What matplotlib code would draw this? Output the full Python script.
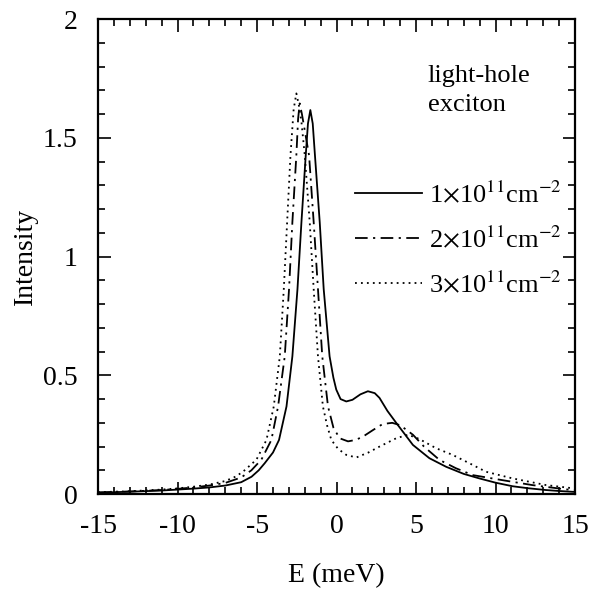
import matplotlib
matplotlib.use("Agg")
import matplotlib.pyplot as plt
from matplotlib.ticker import MultipleLocator, FuncFormatter

plt.rcParams['font.family'] = ['Liberation Serif', 'DejaVu Serif']
plt.rcParams['mathtext.fontset'] = 'stix'
plt.rcParams['axes.unicode_minus'] = False

# ---- data ----
E_1 = [-15, -13, -11, -10, -9, -8, -7, -6, -5.35, -4.9, -4.52, -4.0, -3.62, -3.15, -2.78,
       -2.46, -2.21, -1.94, -1.8, -1.65, -1.5, -1.36, -1.06, -0.81, -0.44, -0.2, -0.02,
       0.25, 0.61, 1.0, 1.5, 1.97, 2.4, 2.7, 3.2, 3.75, 4.8, 5.84, 6.89, 8.0, 8.98,
       10.0, 11.07, 12.0, 13.17, 14.0, 15.0]
I_1 = [0.006, 0.010, 0.015, 0.019, 0.023, 0.028, 0.036, 0.050, 0.073, 0.10, 0.13, 0.175,
       0.228, 0.369, 0.58, 0.863, 1.145, 1.426, 1.56, 1.617, 1.56, 1.426, 1.145, 0.863,
       0.58, 0.49, 0.44, 0.40, 0.39, 0.397, 0.42, 0.433, 0.425, 0.405, 0.35, 0.30, 0.207,
       0.151, 0.115, 0.085, 0.066, 0.048, 0.033, 0.025, 0.017, 0.013, 0.009]

E_2 = [-15, -13, -11, -10, -9, -8, -7, -6, -5.36, -4.73, -4.1, -3.68, -3.26, -2.99,
       -2.78, -2.53, -2.42, -2.32, -2.18, -1.73, -1.44, -1.17, -0.9, -0.54, -0.2, 0.19,
       0.72, 1.2, 1.66, 2.3, 2.9, 3.5, 4.0, 4.4, 4.8, 5.5, 6.47, 7.5, 8.56, 10.4, 12.3,
       14.4, 15.0]
I_2 = [0.007, 0.011, 0.017, 0.022, 0.028, 0.036, 0.047, 0.07, 0.10, 0.145, 0.228, 0.369,
       0.58, 0.863, 1.145, 1.426, 1.58, 1.645, 1.6, 1.426, 1.145, 0.863, 0.58, 0.369,
       0.28, 0.235, 0.222, 0.228, 0.242, 0.27, 0.295, 0.30, 0.29, 0.27, 0.25, 0.20,
       0.144, 0.109, 0.08, 0.059, 0.038, 0.02, 0.017]

E_3 = [-15, -13, -11, -10, -9, -8, -7, -6.3, -5.79, -5.04, -4.41, -3.95, -3.57, -3.32,
       -3.11, -2.9, -2.7, -2.53, -2.35, -2.21, -2.0, -1.69, -1.44, -1.17, -0.86, -0.6,
       -0.33, 0.1, 0.61, 1.24, 2.0, 2.7, 3.75, 4.5, 5.2, 6.26, 7.3, 8.35, 9.4, 11.07,
       13.17, 14.8, 15.0]
I_3 = [0.008, 0.012, 0.019, 0.024, 0.031, 0.04, 0.055, 0.075, 0.10, 0.145, 0.228, 0.369,
       0.58, 0.863, 1.145, 1.426, 1.62, 1.687, 1.63, 1.567, 1.426, 1.145, 0.863, 0.58,
       0.369, 0.29, 0.228, 0.19, 0.165, 0.154, 0.175, 0.2, 0.235, 0.25, 0.232, 0.193,
       0.165, 0.13, 0.094, 0.066, 0.038, 0.025, 0.024]

labels = [r'1$\times$10$^{11}$cm$^{-2}$',
          r'2$\times$10$^{11}$cm$^{-2}$',
          r'3$\times$10$^{11}$cm$^{-2}$']

xticks = [-15, -10, -5, 0, 5, 10, 15]
yticks = [0, 0.5, 1, 1.5, 2]

fig = plt.figure(figsize=(5.91, 5.96), dpi=100)
ax = fig.add_axes([0.166, 0.171, 0.807, 0.797])

lw = 1.3
ax.plot(E_1, I_1, color='black', lw=lw, linestyle='-', label=labels[0])
ax.plot(E_2, I_2, color='black', lw=lw, linestyle=(0, (7, 3, 1.2, 3)), label=labels[1])
ax.plot(E_3, I_3, color='black', lw=lw, linestyle=(0, (1, 2.3)), label=labels[2])

ax.set_xlim(-15, 15)
ax.set_ylim(0, 2)
ax.set_xticks(xticks)
ax.set_yticks(yticks)
ax.xaxis.set_minor_locator(MultipleLocator(1))
ax.yaxis.set_minor_locator(MultipleLocator(0.1))
ax.yaxis.set_major_formatter(FuncFormatter(lambda v, p: ('%g' % v)))
ax.xaxis.set_major_formatter(FuncFormatter(lambda v, p: ('%g' % v)))

ax.tick_params(which='both', direction='in', top=True, right=True, labelsize=20,
               width=1.2)
ax.tick_params(which='major', length=9)
ax.tick_params(which='minor', length=5)
ax.tick_params(axis='x', which='major', pad=14)
ax.tick_params(axis='y', which='major', pad=15)
for s in ax.spines.values():
    s.set_linewidth(1.6)

ax.set_xlabel('E (meV)', fontsize=20, labelpad=18)
ax.set_ylabel('Intensity', fontsize=20, labelpad=3)

ax.text(5.72, 1.734, 'light-hole', fontsize=19, ha='left', va='baseline')
ax.text(5.72, 1.615, 'exciton', fontsize=19, ha='left', va='baseline')

leg = ax.legend(loc='upper left', bbox_to_anchor=(0.6007, 0.696),
                bbox_transform=fig.transFigure, frameon=False,
                fontsize=19, handlelength=2.55, handletextpad=0.25, labelspacing=0.7,
                borderaxespad=0, borderpad=0)

fig.savefig('out.png', dpi=100)
